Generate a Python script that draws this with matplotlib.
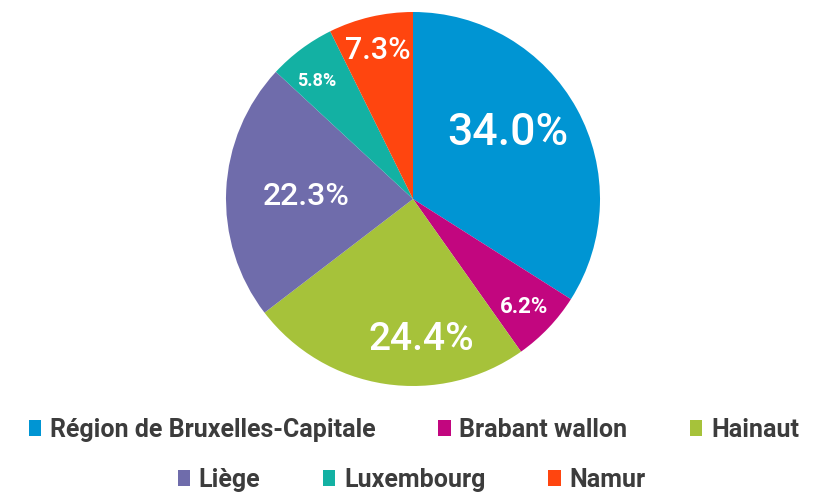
import matplotlib
matplotlib.use("Agg")
import matplotlib.pyplot as plt
import numpy as np
from matplotlib.patches import Patch

# provinces / regions and their share (%)
labels = ["Région de Bruxelles-Capitale", "Brabant wallon", "Hainaut",
          "Liège", "Luxembourg", "Namur"]
values = [34.0, 6.2, 24.4, 22.3, 5.8, 7.3]
colors = ["#0095D3", "#C2067F", "#A6C23A", "#6F6CAB", "#13B1A3", "#FF450F"]

# label style: font size, weight, radial position (fraction of r), angle shift (deg)
lab_size = [32, 16, 28, 23, 13, 22]
lab_weight = ["medium", "bold", "medium", "medium", "bold", "medium"]
lab_rad = [0.63, 0.82, 0.73, 0.57, 0.82, 0.83]
lab_shift = [8, 0, 12, 0, 2, 0]

fig = plt.figure(figsize=(8.18, 4.93), dpi=100)
W, H = 818, 493
cx, cy, r = 413, 294, 187
ax = fig.add_axes([(cx - r) / W, (cy - r) / H, 2 * r / W, 2 * r / H])

wedges, _ = ax.pie(values, colors=colors, startangle=90, counterclock=False,
                   radius=1.0, wedgeprops=dict(linewidth=0))
ax.set_xlim(-1, 1)
ax.set_ylim(-1, 1)
ax.set_aspect("equal")
ax.axis("off")

for w, v, fs, fw, rf, sh in zip(wedges, values, lab_size, lab_weight, lab_rad, lab_shift):
    ang = np.deg2rad((w.theta1 + w.theta2) / 2 + sh)
    ax.text(rf * np.cos(ang), rf * np.sin(ang), f"{v:.1f}%", color="white",
            fontsize=fs, fontweight=fw, family="Roboto", ha="center",
            va="center_baseline")

handles = [Patch(facecolor=c, edgecolor="none") for c in colors]
legkw = dict(frameon=False, handlelength=0.5, handleheight=0.62, handletextpad=0.35,
             columnspacing=2.5, ncol=3, loc="center",
             prop=dict(family="Roboto", weight="bold", size=18))
leg1 = fig.legend(handles[:3], labels[:3], bbox_to_anchor=(0.506, 1 - 430 / H), **legkw)
leg2 = fig.legend(handles[3:], labels[3:], bbox_to_anchor=(0.503, 1 - 480 / H), **legkw)
for lg in (leg1, leg2):
    for t in lg.get_texts():
        t.set_color("#3C3C3C")

fig.savefig("out.png", dpi=100)
